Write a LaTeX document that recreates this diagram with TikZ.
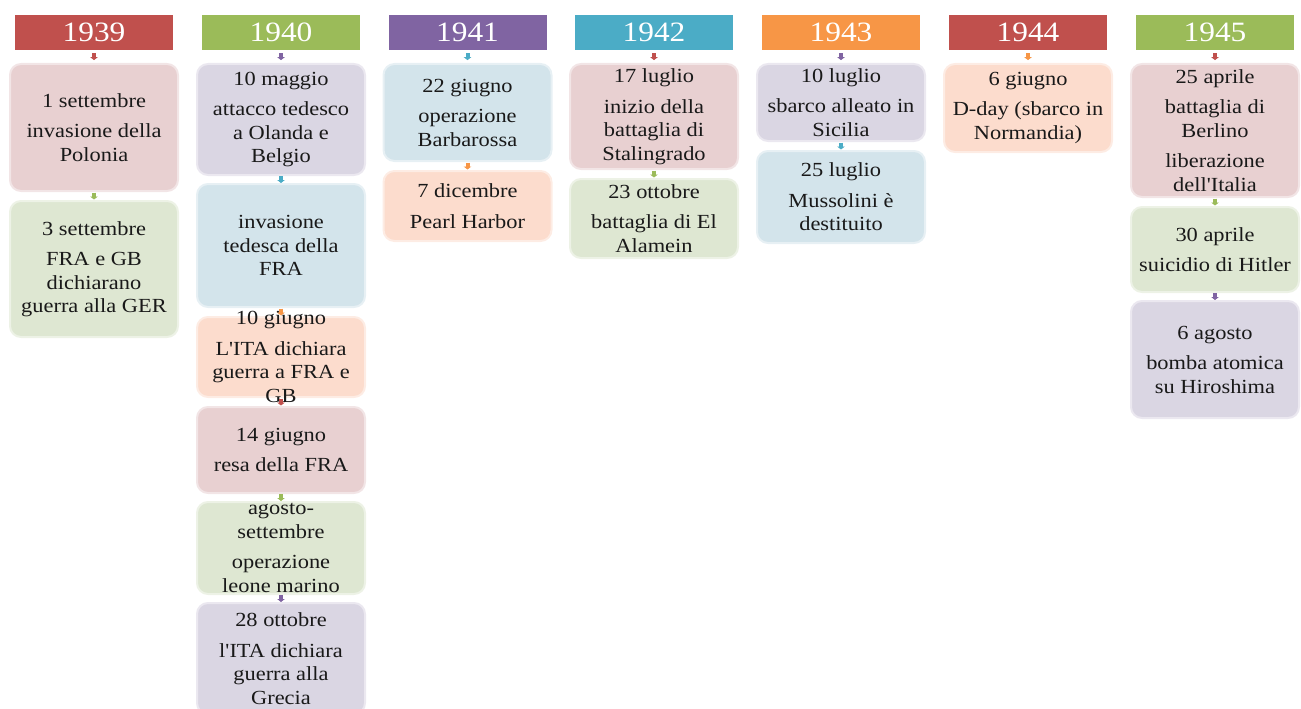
\documentclass[tikz,border=0pt]{standalone}
\usepackage{fontspec}
\setmainfont{Liberation Serif}[FakeStretch=1.12, Ligatures=TeXOff]
\usetikzlibrary{calc,arrows.meta}
\definecolor{cRed}{HTML}{C0504D}
\definecolor{cGreen}{HTML}{9BBB59}
\definecolor{cPurple}{HTML}{8064A2}
\definecolor{cCyan}{HTML}{4BACC6}
\definecolor{cOrange}{HTML}{F79646}
\definecolor{fRed}{HTML}{E8D0D1}
\definecolor{fGreen}{HTML}{DEE7D2}
\definecolor{fPurple}{HTML}{DAD6E3}
\definecolor{fCyan}{HTML}{D3E4EB}
\definecolor{fOrange}{HTML}{FCDCCD}
\tikzset{
  yearbox/.style={fill=#1, minimum width=158pt, minimum height=35pt, inner sep=0pt,
    text=white, font=\fontsize{28}{30}\selectfont},
  evbox/.style={fill=f#1, draw=f#1!55!white, line width=2pt, rounded corners=11pt,
    minimum width=168pt, inner sep=0pt},
  evtext/.style={align=center, inner sep=0pt, text=black!90, font=\fontsize{20}{23.5}\selectfont},
  tick/.style={draw=#1, line width=4pt, -{Triangle[width=7.5pt,length=3pt]}}
}
\newcommand{\EvBox}[6]{%
  \node[evbox=#5, minimum height=#4pt] (#1) at (#2,#3) {};
  \node[evtext] (#1t) at (#1.center) {#6};
}
\newcommand{\Tick}[3]{%
  \draw[tick=#3] ($($(#1.south)!0.5!(#2.north)$)+(0,-3.5)$) -- ($($(#1.south)!0.5!(#2.north)$)+(0,3.5)$);
}
\begin{document}
\begin{tikzpicture}[x=1pt,y=-1pt]
\useasboundingbox (0,0) rectangle (1301,709);
% headers
\node[yearbox=cRed] (h1) at (94,32.5) {1939};
\node[yearbox=cGreen] (h2) at (281,32.5) {1940};
\node[yearbox=cPurple] (h3) at (467.5,32.5) {1941};
\node[yearbox=cCyan] (h4) at (654,32.5) {1942};
\node[yearbox=cOrange] (h5) at (841,32.5) {1943};
\node[yearbox=cRed] (h6) at (1028,32.5) {1944};
\node[yearbox=cGreen] (h7) at (1215,32.5) {1945};
% 1939
\EvBox{a1}{94}{127.5}{127}{Red}{1 settembre\\[7pt]invasione della\\Polonia}
\EvBox{a2}{94}{269}{136}{Green}{3 settembre\\[7pt]FRA e GB\\dichiarano\\guerra alla GER}
\Tick{h1}{a1}{cRed}
\Tick{a1}{a2}{cGreen}
% 1940
\EvBox{b1}{281}{119.5}{111}{Purple}{10 maggio\\[7pt]attacco tedesco\\a Olanda e\\Belgio}
\EvBox{b2}{281}{245.5}{123}{Cyan}{invasione\\tedesca della\\FRA}
\EvBox{b3}{281}{357}{80}{Orange}{10 giugno\\[7pt]L'ITA dichiara\\guerra a FRA e\\GB}
\EvBox{b4}{281}{450}{86}{Red}{14 giugno\\[7pt]resa della FRA}
\EvBox{b5}{281}{548}{92}{Green}{agosto-\\settembre\\[7pt]operazione\\leone marino}
\EvBox{b6}{281}{658.5}{111}{Purple}{28 ottobre\\[7pt]l'ITA dichiara\\guerra alla\\Grecia}
\Tick{h2}{b1}{cPurple}
\Tick{b1}{b2}{cCyan}
\Tick{b2}{b3}{cOrange}
\Tick{b3}{b4}{cRed}
\Tick{b4}{b5}{cGreen}
\Tick{b5}{b6}{cPurple}
% 1941
\EvBox{c1}{467.5}{112.5}{97}{Cyan}{22 giugno\\[7pt]operazione\\Barbarossa}
\EvBox{c2}{467.5}{206}{70}{Orange}{7 dicembre\\[7pt]Pearl Harbor}
\Tick{h3}{c1}{cCyan}
\Tick{c1}{c2}{cOrange}
% 1942
\EvBox{d1}{654}{116.5}{105}{Red}{17 luglio\\[7pt]inizio della\\battaglia di\\Stalingrado}
\EvBox{d2}{654}{218.5}{79}{Green}{23 ottobre\\[7pt]battaglia di El\\Alamein}
\Tick{h4}{d1}{cRed}
\Tick{d1}{d2}{cGreen}
% 1943
\EvBox{e1}{841}{102.5}{77}{Purple}{10 luglio\\[7pt]sbarco alleato in\\Sicilia}
\EvBox{e2}{841}{197}{92}{Cyan}{25 luglio\\[7pt]Mussolini è\\destituito}
\Tick{h5}{e1}{cPurple}
\Tick{e1}{e2}{cCyan}
% 1944
\EvBox{f1}{1028}{108}{88}{Orange}{6 giugno\\[7pt]D-day (sbarco in\\Normandia)}
\Tick{h6}{f1}{cOrange}
% 1945
\EvBox{g1}{1215}{130.5}{133}{Red}{25 aprile\\[7pt]battaglia di\\Berlino\\[7pt]liberazione\\dell'Italia}
\EvBox{g2}{1215}{249.5}{85}{Green}{30 aprile\\[7pt]suicidio di Hitler}
\EvBox{g3}{1215}{359.5}{117}{Purple}{6 agosto\\[7pt]bomba atomica\\su Hiroshima}
\Tick{h7}{g1}{cRed}
\Tick{g1}{g2}{cGreen}
\Tick{g2}{g3}{cPurple}
\end{tikzpicture}
\end{document}
